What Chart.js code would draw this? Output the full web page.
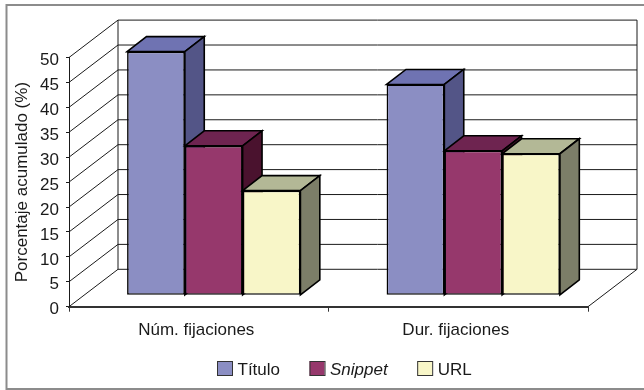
<!DOCTYPE html>
<html lang="es">
<head>
<meta charset="utf-8">
<title>Porcentaje acumulado</title>
<script src="https://cdn.jsdelivr.net/npm/chart.js@4"></script>
<style>
    html, body { margin: 0; padding: 0; background: #fff; }
    canvas { display: block; }
</style>
</head>
<body>
<canvas id="grafico" width="644" height="390"></canvas>
<script>
// Datos
const categorias = ['Núm. fijaciones', 'Dur. fijaciones'];
const valoresTitulo = [48.9, 42.3];
const valoresSnippet = [30, 29];
const valoresUrl = [21, 28.4];
const ticksEjeY = [0, 5, 10, 15, 20, 25, 30, 35, 40, 45, 50];

const FUENTE = "'Liberation Sans', Arial, sans-serif";
const TAM_FUENTE = 17;
const TINTA = '#1a1a1a';

// Profundidad de la caja 3D y de las barras dentro de ella
const CAJA = { dx: 49, dy: -37.4 };
const SUELO = { dx: 15, dy: -11.4 };
const BARRA = { dx: 19.4, dy: -15 };

function linea(ctx, x1, y1, x2, y2) {
    ctx.beginPath();
    ctx.moveTo(x1, y1);
    ctx.lineTo(x2, y2);
    ctx.stroke();
}

function cara(ctx, puntos, relleno) {
    ctx.beginPath();
    puntos.forEach(([x, y], i) => (i ? ctx.lineTo(x, y) : ctx.moveTo(x, y)));
    ctx.closePath();
    ctx.fillStyle = relleno;
    ctx.fill();
    ctx.stroke();
}

// Marco exterior y paredes de la caja, antes de las barras
const caja3d = {
    id: 'caja3d',
    beforeDraw(chart) {
        const { ctx, chartArea: { left, right }, scales: { y } } = chart;
        const fondo = y.getPixelForValue(0);
        ctx.save();
        ctx.strokeStyle = '#8c8c8c';
        ctx.lineWidth = 2;
        ctx.strokeRect(6.5, 5, 660, 384);

        ctx.strokeStyle = TINTA;
        ctx.lineWidth = 1;
        ticksEjeY.forEach(v => {
            const py = y.getPixelForValue(v);
            linea(ctx, left, py, left + CAJA.dx, py + CAJA.dy);
            linea(ctx, left + CAJA.dx, py + CAJA.dy, right + CAJA.dx, py + CAJA.dy);
        });
        const arriba = y.getPixelForValue(50);
        linea(ctx, left + CAJA.dx, arriba + CAJA.dy, left + CAJA.dx, fondo + CAJA.dy);
        linea(ctx, right + CAJA.dx, arriba + CAJA.dy, right + CAJA.dx, fondo + CAJA.dy);
        linea(ctx, right, fondo, right + CAJA.dx, fondo + CAJA.dy);
        ctx.restore();
    },

    // Barras de izquierda a derecha, cada una con su techo y su lateral
    beforeDatasetsDraw(chart) {
        const { ctx, data } = chart;
        ctx.save();
        ctx.translate(SUELO.dx, SUELO.dy);
        data.datasets.forEach((ds, i) => {
            chart.getDatasetMeta(i).data.forEach(barra => {
                const izq = barra.x - barra.width / 2;
                const der = barra.x + barra.width / 2;
                ctx.strokeStyle = '#000';
                ctx.lineWidth = 1.6;
                ctx.lineJoin = 'miter';
                cara(ctx, [
                    [izq, barra.y], [izq + BARRA.dx, barra.y + BARRA.dy],
                    [der + BARRA.dx, barra.y + BARRA.dy], [der, barra.y]
                ], ds.colorTecho);
                cara(ctx, [
                    [der, barra.y], [der + BARRA.dx, barra.y + BARRA.dy],
                    [der + BARRA.dx, barra.base + BARRA.dy], [der, barra.base]
                ], ds.colorLateral);
                barra.draw(ctx);
            });
        });
        ctx.restore();
        return false;
    },

    // Leyenda propia: la de Chart.js no admite una sola etiqueta en cursiva
    afterDraw(chart) {
        const { ctx, data } = chart;
        let x = 217;
        ctx.save();
        ctx.textBaseline = 'alphabetic';
        data.datasets.forEach(ds => {
            ctx.fillStyle = ds.backgroundColor;
            ctx.strokeStyle = '#333';
            ctx.lineWidth = 1;
            ctx.fillRect(x, 361, 15, 15);
            ctx.strokeRect(x + 0.5, 361.5, 15, 14);
            ctx.font = `${ds.label === 'Snippet' ? 'italic ' : ''}${TAM_FUENTE}px ${FUENTE}`;
            ctx.fillStyle = TINTA;
            ctx.fillText(ds.label, x + 20.5, 374.5);
            x += 20.5 + ctx.measureText(ds.label).width + 29.5;
        });
        ctx.restore();
    }
};

new Chart(document.getElementById('grafico'), {
    type: 'bar',
    data: {
        labels: categorias,
        datasets: [
            { label: 'Título', data: valoresTitulo, backgroundColor: '#8b8ec3', colorLateral: '#535587', colorTecho: '#6f73b2' },
            { label: 'Snippet', data: valoresSnippet, backgroundColor: '#96386c', colorLateral: '#4a122e', colorTecho: '#6e2450' },
            { label: 'URL', data: valoresUrl, backgroundColor: '#f8f6c8', colorLateral: '#7c7e68', colorTecho: '#b3b896' }
        ]
    },
    options: {
        responsive: false,
        animation: false,
        layout: { padding: { left: 0, right: 56, top: 57.5, bottom: 0 } },
        datasets: {
            bar: {
                categoryPercentage: 0.668,
                barPercentage: 1,
                borderColor: '#000',
                borderWidth: 1.6,
                borderSkipped: false
            }
        },
        plugins: {
            legend: { display: false },
            tooltip: { enabled: false }
        },
        scales: {
            x: {
                afterFit: s => { s.height = 83.3; },
                border: { color: '#333', width: 2 },
                grid: { drawOnChartArea: false, color: '#333', tickLength: 5, offset: true },
                ticks: { color: TINTA, padding: 8, labelOffset: -2.5, font: { family: FUENTE, size: TAM_FUENTE } }
            },
            y: {
                min: 0,
                max: 50,
                afterFit: s => { s.width = 69; },
                afterBuildTicks: s => { s.ticks = ticksEjeY.map(value => ({ value })); },
                border: { color: TINTA, width: 1 },
                grid: { drawOnChartArea: false, color: TINTA, tickLength: 3 },
                ticks: { color: TINTA, padding: 7, labelOffset: 3, font: { family: FUENTE, size: TAM_FUENTE } },
                title: {
                    display: true,
                    text: 'Porcentaje acumulado (%)',
                    color: TINTA,
                    padding: { top: 12, bottom: 0 },
                    font: { family: FUENTE, size: TAM_FUENTE }
                }
            }
        }
    },
    plugins: [caja3d]
});
</script>
</body>
</html>
